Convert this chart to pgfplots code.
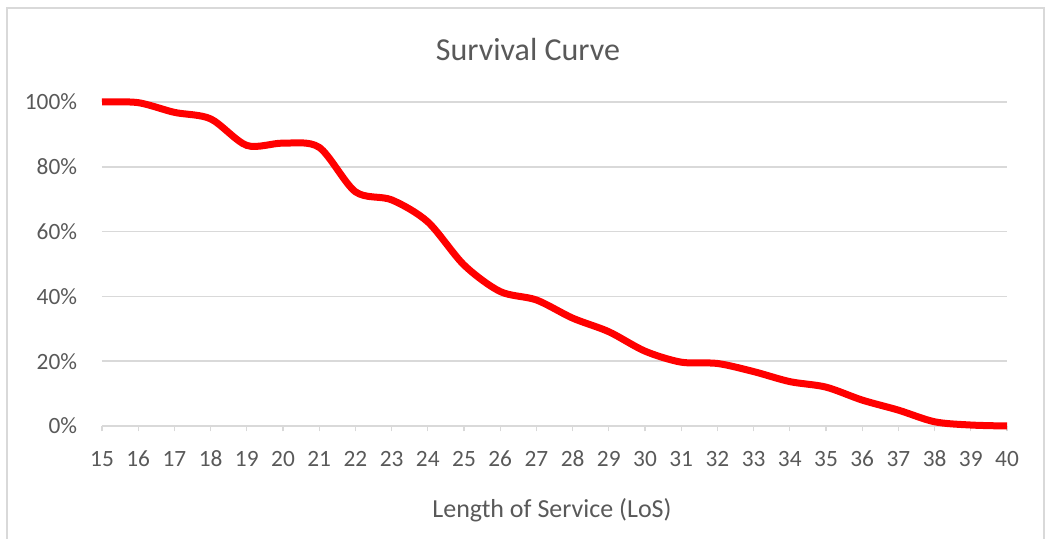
\documentclass[border=0pt]{standalone}
\usepackage{pgfplots}
\pgfplotsset{compat=1.18}
\usepackage{fontspec}
\setmainfont{Carlito}
\definecolor{txt}{HTML}{595959}
\definecolor{gridc}{HTML}{D9D9D9}
\definecolor{framec}{HTML}{D9D9D9}
\begin{document}
\begin{tikzpicture}
\begin{axis}[
  at={(0pt,0pt)}, anchor=south west,
  scale only axis,
  width=678.75pt, height=243pt,
  xmin=15, xmax=40, ymin=0, ymax=100,
  xtick={15,...,40},
  ytick={0,20,40,60,80,100},
  ymajorgrids,
  major grid style={color=gridc, line width=1.2pt},
  axis x line*=bottom,
  axis y line*=left,
  x axis line style={draw=gridc, line width=1.2pt},
  y axis line style={draw=none},
  xtick style={draw=gridc, line width=1pt},
  ytick style={draw=none},
  tick align=outside,
  major tick length=4pt,
  /pgf/number format/assume math mode=true,
  xticklabel style={anchor=center, yshift=-20.5pt, text=txt, font=\fontsize{17.5}{20}\selectfont, inner sep=0pt},
  yticklabel style={anchor=east, xshift=-14.5pt, text=txt, font=\fontsize{17.5}{20}\selectfont, inner sep=0pt},
  yticklabel={\pgfmathprintnumber{\tick}\%},
  clip=false,
]
\addplot[color=red, line width=5.25pt, smooth, tension=0.5] coordinates {
(15,100) (16,99.8) (17,96.8) (18,94.8) (19,86.6) (20,87.3) (21,86)
(22,72.3) (23,69.8) (24,63) (25,49.7) (26,41.5) (27,38.9) (28,33.3)
(29,29.1) (30,23.1) (31,19.7) (32,19.3) (33,16.8) (34,13.7) (35,12)
(36,8) (37,4.9) (38,1.3) (39,0.3) (40,0)
};
\end{axis}
\node[text=txt, font=\fontsize{24}{28}\selectfont] at (319.5pt,282pt) {Survival Curve};
\node[text=txt, font=\fontsize{19.5}{23}\selectfont] at (337.5pt,-63pt) {Length of Service (LoS)};
\draw[framec, line width=1.2pt] (-71.25pt,-95pt) -- (-71.25pt,313.5pt) -- (706.5pt,313.5pt) -- (706.5pt,-95pt);
\pgfresetboundingbox
\useasboundingbox (-76.5pt,-84.75pt) rectangle (708pt,319.5pt);
\end{tikzpicture}
\end{document}
